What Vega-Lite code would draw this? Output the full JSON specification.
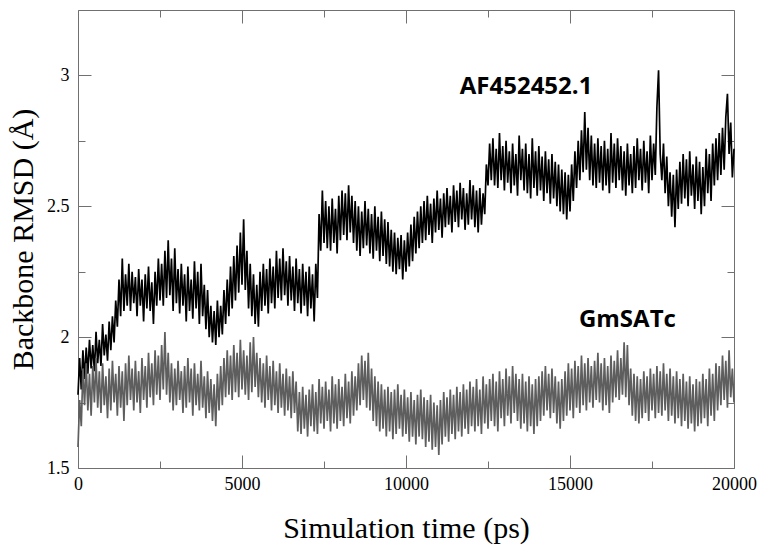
{
"$schema": "https://vega.github.io/schema/vega-lite/v6.json",
"autosize": "none",
"width": 656,
"height": 458,
"padding": {"left": 78, "top": 10, "right": 28, "bottom": 84},
"background": "white",
"view": {"stroke": "#707070", "strokeWidth": 1},
"config": {
  "axis": {"labelFont": "Liberation Serif", "labelFontSize": 18, "labelColor": "#000", "titleFont": "Liberation Serif", "titleFontSize": 30, "titleFontWeight": "normal", "titleColor": "#000", "tickColor": "#707070", "domain": false, "grid": false, "labelFlush": false, "labelOverlap": false}
},
"datasets": {
"rmsd": [
{"t":0,"a":1.78,"g":1.58},{"t":50,"a":1.92,"g":1.76},{"t":100,"a":1.80,"g":1.66},{"t":150,"a":1.95,"g":1.88},{"t":200,"a":1.84,"g":1.74},{"t":250,"a":1.96,"g":1.90},{"t":300,"a":1.86,"g":1.72},{"t":350,"a":1.99,"g":1.86},{"t":400,"a":1.88,"g":1.70},{"t":450,"a":1.97,"g":1.89},
{"t":500,"a":1.87,"g":1.75},{"t":550,"a":2.02,"g":1.92},{"t":600,"a":1.90,"g":1.73},{"t":650,"a":1.99,"g":1.87},{"t":700,"a":1.89,"g":1.71},{"t":750,"a":2.05,"g":1.90},{"t":800,"a":1.93,"g":1.74},{"t":850,"a":2.01,"g":1.85},{"t":900,"a":1.91,"g":1.69},{"t":950,"a":2.06,"g":1.88},
{"t":1000,"a":1.95,"g":1.72},{"t":1050,"a":2.08,"g":1.91},{"t":1100,"a":1.98,"g":1.75},{"t":1150,"a":2.14,"g":1.86},{"t":1200,"a":2.04,"g":1.70},{"t":1250,"a":2.22,"g":1.89},{"t":1300,"a":2.08,"g":1.73},{"t":1350,"a":2.30,"g":1.87},{"t":1400,"a":2.10,"g":1.68},{"t":1450,"a":2.24,"g":1.90},
{"t":1500,"a":2.12,"g":1.74},{"t":1550,"a":2.28,"g":1.93},{"t":1600,"a":2.10,"g":1.76},{"t":1650,"a":2.25,"g":1.88},{"t":1700,"a":2.13,"g":1.72},{"t":1750,"a":2.23,"g":1.91},{"t":1800,"a":2.08,"g":1.75},{"t":1850,"a":2.26,"g":1.87},{"t":1900,"a":2.12,"g":1.71},{"t":1950,"a":2.22,"g":1.92},
{"t":2000,"a":2.06,"g":1.76},{"t":2050,"a":2.24,"g":1.89},{"t":2100,"a":2.11,"g":1.73},{"t":2150,"a":2.27,"g":1.94},{"t":2200,"a":2.10,"g":1.77},{"t":2250,"a":2.21,"g":1.90},{"t":2300,"a":2.05,"g":1.74},{"t":2350,"a":2.25,"g":1.95},{"t":2400,"a":2.12,"g":1.78},{"t":2450,"a":2.30,"g":1.93},
{"t":2500,"a":2.14,"g":1.76},{"t":2550,"a":2.28,"g":1.97},{"t":2600,"a":2.12,"g":1.80},{"t":2650,"a":2.33,"g":2.02},{"t":2700,"a":2.15,"g":1.78},{"t":2750,"a":2.37,"g":1.94},{"t":2800,"a":2.16,"g":1.75},{"t":2850,"a":2.30,"g":1.90},{"t":2900,"a":2.10,"g":1.72},{"t":2950,"a":2.34,"g":1.88},
{"t":3000,"a":2.13,"g":1.74},{"t":3050,"a":2.26,"g":1.91},{"t":3100,"a":2.09,"g":1.76},{"t":3150,"a":2.28,"g":1.87},{"t":3200,"a":2.12,"g":1.71},{"t":3250,"a":2.24,"g":1.89},{"t":3300,"a":2.06,"g":1.73},{"t":3350,"a":2.27,"g":1.92},{"t":3400,"a":2.10,"g":1.75},{"t":3450,"a":2.22,"g":1.88},
{"t":3500,"a":2.07,"g":1.70},{"t":3550,"a":2.29,"g":1.90},{"t":3600,"a":2.11,"g":1.74},{"t":3650,"a":2.25,"g":1.86},{"t":3700,"a":2.05,"g":1.72},{"t":3750,"a":2.28,"g":1.91},{"t":3800,"a":2.08,"g":1.73},{"t":3850,"a":2.20,"g":1.85},{"t":3900,"a":2.03,"g":1.69},{"t":3950,"a":2.18,"g":1.87},
{"t":4000,"a":2.00,"g":1.71},{"t":4050,"a":2.12,"g":1.84},{"t":4100,"a":1.98,"g":1.68},{"t":4150,"a":2.10,"g":1.82},{"t":4200,"a":1.97,"g":1.66},{"t":4250,"a":2.14,"g":1.86},{"t":4300,"a":2.00,"g":1.72},{"t":4350,"a":2.12,"g":1.89},{"t":4400,"a":2.01,"g":1.74},{"t":4450,"a":2.18,"g":1.92},
{"t":4500,"a":2.05,"g":1.77},{"t":4550,"a":2.22,"g":1.95},{"t":4600,"a":2.08,"g":1.78},{"t":4650,"a":2.27,"g":1.93},{"t":4700,"a":2.11,"g":1.76},{"t":4750,"a":2.31,"g":1.97},{"t":4800,"a":2.14,"g":1.79},{"t":4850,"a":2.35,"g":1.94},{"t":4900,"a":2.17,"g":1.77},{"t":4950,"a":2.40,"g":1.99},
{"t":5000,"a":2.20,"g":1.80},{"t":5050,"a":2.45,"g":1.95},{"t":5100,"a":2.18,"g":1.78},{"t":5150,"a":2.33,"g":1.93},{"t":5200,"a":2.11,"g":1.76},{"t":5250,"a":2.28,"g":1.98},{"t":5300,"a":2.08,"g":1.79},{"t":5350,"a":2.24,"g":2.00},{"t":5400,"a":2.05,"g":1.81},{"t":5450,"a":2.20,"g":1.94},
{"t":5500,"a":2.04,"g":1.77},{"t":5550,"a":2.25,"g":1.92},{"t":5600,"a":2.10,"g":1.75},{"t":5650,"a":2.28,"g":1.90},{"t":5700,"a":2.12,"g":1.73},{"t":5750,"a":2.26,"g":1.93},{"t":5800,"a":2.09,"g":1.76},{"t":5850,"a":2.30,"g":1.89},{"t":5900,"a":2.13,"g":1.72},{"t":5950,"a":2.27,"g":1.91},
{"t":6000,"a":2.11,"g":1.74},{"t":6050,"a":2.33,"g":1.87},{"t":6100,"a":2.15,"g":1.71},{"t":6150,"a":2.30,"g":1.90},{"t":6200,"a":2.14,"g":1.73},{"t":6250,"a":2.34,"g":1.86},{"t":6300,"a":2.16,"g":1.70},{"t":6350,"a":2.29,"g":1.88},{"t":6400,"a":2.12,"g":1.72},{"t":6450,"a":2.31,"g":1.85},
{"t":6500,"a":2.14,"g":1.69},{"t":6550,"a":2.27,"g":1.87},{"t":6600,"a":2.10,"g":1.71},{"t":6650,"a":2.30,"g":1.83},{"t":6700,"a":2.13,"g":1.64},{"t":6750,"a":2.26,"g":1.79},{"t":6800,"a":2.09,"g":1.63},{"t":6850,"a":2.28,"g":1.81},{"t":6900,"a":2.12,"g":1.65},{"t":6950,"a":2.25,"g":1.78},
{"t":7000,"a":2.08,"g":1.62},{"t":7050,"a":2.27,"g":1.80},{"t":7100,"a":2.11,"g":1.66},{"t":7150,"a":2.24,"g":1.82},{"t":7200,"a":2.06,"g":1.64},{"t":7250,"a":2.28,"g":1.79},{"t":7300,"a":2.15,"g":1.63},{"t":7350,"a":2.47,"g":1.84},{"t":7400,"a":2.33,"g":1.67},{"t":7450,"a":2.56,"g":1.81},
{"t":7500,"a":2.36,"g":1.65},{"t":7550,"a":2.52,"g":1.83},{"t":7600,"a":2.34,"g":1.68},{"t":7650,"a":2.50,"g":1.80},{"t":7700,"a":2.33,"g":1.64},{"t":7750,"a":2.53,"g":1.85},{"t":7800,"a":2.36,"g":1.67},{"t":7850,"a":2.49,"g":1.82},{"t":7900,"a":2.32,"g":1.65},{"t":7950,"a":2.54,"g":1.84},
{"t":8000,"a":2.37,"g":1.68},{"t":8050,"a":2.56,"g":1.81},{"t":8100,"a":2.39,"g":1.66},{"t":8150,"a":2.55,"g":1.86},{"t":8200,"a":2.37,"g":1.69},{"t":8250,"a":2.58,"g":1.83},{"t":8300,"a":2.40,"g":1.67},{"t":8350,"a":2.54,"g":1.87},{"t":8400,"a":2.36,"g":1.70},{"t":8450,"a":2.52,"g":1.85},
{"t":8500,"a":2.33,"g":1.72},{"t":8550,"a":2.50,"g":1.90},{"t":8600,"a":2.31,"g":1.74},{"t":8650,"a":2.48,"g":1.93},{"t":8700,"a":2.34,"g":1.76},{"t":8750,"a":2.52,"g":1.91},{"t":8800,"a":2.35,"g":1.73},{"t":8850,"a":2.49,"g":1.94},{"t":8900,"a":2.32,"g":1.72},{"t":8950,"a":2.47,"g":1.88},
{"t":9000,"a":2.30,"g":1.68},{"t":9050,"a":2.50,"g":1.85},{"t":9100,"a":2.33,"g":1.66},{"t":9150,"a":2.46,"g":1.83},{"t":9200,"a":2.29,"g":1.64},{"t":9250,"a":2.48,"g":1.82},{"t":9300,"a":2.31,"g":1.65},{"t":9350,"a":2.45,"g":1.80},{"t":9400,"a":2.28,"g":1.62},{"t":9450,"a":2.44,"g":1.81},
{"t":9500,"a":2.27,"g":1.64},{"t":9550,"a":2.41,"g":1.79},{"t":9600,"a":2.25,"g":1.61},{"t":9650,"a":2.40,"g":1.80},{"t":9700,"a":2.24,"g":1.63},{"t":9750,"a":2.38,"g":1.82},{"t":9800,"a":2.26,"g":1.65},{"t":9850,"a":2.39,"g":1.78},{"t":9900,"a":2.22,"g":1.62},{"t":9950,"a":2.37,"g":1.80},
{"t":10000,"a":2.25,"g":1.63},{"t":10050,"a":2.40,"g":1.77},{"t":10100,"a":2.27,"g":1.60},{"t":10150,"a":2.43,"g":1.79},{"t":10200,"a":2.29,"g":1.62},{"t":10250,"a":2.46,"g":1.76},{"t":10300,"a":2.32,"g":1.59},{"t":10350,"a":2.48,"g":1.78},{"t":10400,"a":2.34,"g":1.62},{"t":10450,"a":2.50,"g":1.80},
{"t":10500,"a":2.36,"g":1.61},{"t":10550,"a":2.52,"g":1.77},{"t":10600,"a":2.37,"g":1.58},{"t":10650,"a":2.54,"g":1.76},{"t":10700,"a":2.39,"g":1.60},{"t":10750,"a":2.51,"g":1.78},{"t":10800,"a":2.36,"g":1.57},{"t":10850,"a":2.53,"g":1.75},{"t":10900,"a":2.40,"g":1.58},{"t":10950,"a":2.56,"g":1.74},
{"t":11000,"a":2.41,"g":1.55},{"t":11050,"a":2.53,"g":1.76},{"t":11100,"a":2.38,"g":1.59},{"t":11150,"a":2.55,"g":1.79},{"t":11200,"a":2.42,"g":1.62},{"t":11250,"a":2.57,"g":1.77},{"t":11300,"a":2.43,"g":1.60},{"t":11350,"a":2.54,"g":1.80},{"t":11400,"a":2.40,"g":1.63},{"t":11450,"a":2.58,"g":1.78},
{"t":11500,"a":2.44,"g":1.61},{"t":11550,"a":2.56,"g":1.81},{"t":11600,"a":2.42,"g":1.64},{"t":11650,"a":2.59,"g":1.79},{"t":11700,"a":2.45,"g":1.62},{"t":11750,"a":2.57,"g":1.82},{"t":11800,"a":2.41,"g":1.65},{"t":11850,"a":2.55,"g":1.80},{"t":11900,"a":2.43,"g":1.63},{"t":11950,"a":2.60,"g":1.83},
{"t":12000,"a":2.45,"g":1.66},{"t":12050,"a":2.58,"g":1.81},{"t":12100,"a":2.42,"g":1.64},{"t":12150,"a":2.56,"g":1.84},{"t":12200,"a":2.40,"g":1.66},{"t":12250,"a":2.57,"g":1.80},{"t":12300,"a":2.43,"g":1.63},{"t":12350,"a":2.55,"g":1.85},{"t":12400,"a":2.47,"g":1.67},{"t":12450,"a":2.66,"g":1.82},
{"t":12500,"a":2.58,"g":1.65},{"t":12550,"a":2.74,"g":1.84},{"t":12600,"a":2.60,"g":1.68},{"t":12650,"a":2.76,"g":1.86},{"t":12700,"a":2.58,"g":1.66},{"t":12750,"a":2.72,"g":1.83},{"t":12800,"a":2.57,"g":1.64},{"t":12850,"a":2.78,"g":1.87},{"t":12900,"a":2.60,"g":1.69},{"t":12950,"a":2.73,"g":1.84},
{"t":13000,"a":2.56,"g":1.66},{"t":13050,"a":2.75,"g":1.88},{"t":13100,"a":2.59,"g":1.70},{"t":13150,"a":2.71,"g":1.85},{"t":13200,"a":2.55,"g":1.67},{"t":13250,"a":2.74,"g":1.89},{"t":13300,"a":2.58,"g":1.71},{"t":13350,"a":2.70,"g":1.86},{"t":13400,"a":2.54,"g":1.68},{"t":13450,"a":2.77,"g":1.84},
{"t":13500,"a":2.60,"g":1.65},{"t":13550,"a":2.72,"g":1.86},{"t":13600,"a":2.56,"g":1.67},{"t":13650,"a":2.74,"g":1.83},{"t":13700,"a":2.55,"g":1.64},{"t":13750,"a":2.70,"g":1.85},{"t":13800,"a":2.53,"g":1.66},{"t":13850,"a":2.76,"g":1.82},{"t":13900,"a":2.57,"g":1.63},{"t":13950,"a":2.71,"g":1.84},
{"t":14000,"a":2.54,"g":1.66},{"t":14050,"a":2.73,"g":1.85},{"t":14100,"a":2.56,"g":1.68},{"t":14150,"a":2.69,"g":1.87},{"t":14200,"a":2.52,"g":1.70},{"t":14250,"a":2.71,"g":1.89},{"t":14300,"a":2.55,"g":1.72},{"t":14350,"a":2.68,"g":1.86},{"t":14400,"a":2.51,"g":1.69},{"t":14450,"a":2.70,"g":1.88},
{"t":14500,"a":2.53,"g":1.71},{"t":14550,"a":2.67,"g":1.85},{"t":14600,"a":2.50,"g":1.67},{"t":14650,"a":2.66,"g":1.83},{"t":14700,"a":2.48,"g":1.65},{"t":14750,"a":2.64,"g":1.84},{"t":14800,"a":2.47,"g":1.68},{"t":14850,"a":2.63,"g":1.87},{"t":14900,"a":2.45,"g":1.70},{"t":14950,"a":2.62,"g":1.90},
{"t":15000,"a":2.48,"g":1.72},{"t":15050,"a":2.66,"g":1.88},{"t":15100,"a":2.52,"g":1.69},{"t":15150,"a":2.71,"g":1.91},{"t":15200,"a":2.57,"g":1.73},{"t":15250,"a":2.75,"g":1.89},{"t":15300,"a":2.60,"g":1.71},{"t":15350,"a":2.79,"g":1.93},{"t":15400,"a":2.63,"g":1.74},{"t":15450,"a":2.86,"g":1.90},
{"t":15500,"a":2.64,"g":1.72},{"t":15550,"a":2.80,"g":1.92},{"t":15600,"a":2.60,"g":1.75},{"t":15650,"a":2.77,"g":1.89},{"t":15700,"a":2.58,"g":1.73},{"t":15750,"a":2.74,"g":1.91},{"t":15800,"a":2.57,"g":1.76},{"t":15850,"a":2.76,"g":1.94},{"t":15900,"a":2.59,"g":1.75},{"t":15950,"a":2.73,"g":1.90},
{"t":16000,"a":2.56,"g":1.72},{"t":16050,"a":2.75,"g":1.92},{"t":16100,"a":2.58,"g":1.74},{"t":16150,"a":2.72,"g":1.89},{"t":16200,"a":2.55,"g":1.71},{"t":16250,"a":2.78,"g":1.93},{"t":16300,"a":2.59,"g":1.75},{"t":16350,"a":2.74,"g":1.91},{"t":16400,"a":2.57,"g":1.77},{"t":16450,"a":2.76,"g":1.95},
{"t":16500,"a":2.60,"g":1.76},{"t":16550,"a":2.73,"g":1.92},{"t":16600,"a":2.56,"g":1.78},{"t":16650,"a":2.71,"g":1.98},{"t":16700,"a":2.54,"g":1.77},{"t":16750,"a":2.74,"g":1.97},{"t":16800,"a":2.58,"g":1.74},{"t":16850,"a":2.70,"g":1.88},{"t":16900,"a":2.55,"g":1.70},{"t":16950,"a":2.73,"g":1.86},
{"t":17000,"a":2.57,"g":1.68},{"t":17050,"a":2.76,"g":1.85},{"t":17100,"a":2.60,"g":1.67},{"t":17150,"a":2.72,"g":1.84},{"t":17200,"a":2.56,"g":1.69},{"t":17250,"a":2.75,"g":1.87},{"t":17300,"a":2.59,"g":1.71},{"t":17350,"a":2.71,"g":1.85},{"t":17400,"a":2.55,"g":1.68},{"t":17450,"a":2.77,"g":1.88},
{"t":17500,"a":2.60,"g":1.72},{"t":17550,"a":2.74,"g":1.86},{"t":17600,"a":2.62,"g":1.69},{"t":17650,"a":2.88,"g":1.89},{"t":17700,"a":3.02,"g":1.71},{"t":17750,"a":2.70,"g":1.87},{"t":17800,"a":2.60,"g":1.70},{"t":17850,"a":2.74,"g":1.90},{"t":17900,"a":2.55,"g":1.72},{"t":17950,"a":2.69,"g":1.86},
{"t":18000,"a":2.50,"g":1.68},{"t":18050,"a":2.63,"g":1.88},{"t":18100,"a":2.46,"g":1.70},{"t":18150,"a":2.62,"g":1.85},{"t":18200,"a":2.42,"g":1.67},{"t":18250,"a":2.64,"g":1.87},{"t":18300,"a":2.49,"g":1.69},{"t":18350,"a":2.67,"g":1.84},{"t":18400,"a":2.51,"g":1.66},{"t":18450,"a":2.70,"g":1.86},
{"t":18500,"a":2.53,"g":1.68},{"t":18550,"a":2.68,"g":1.83},{"t":18600,"a":2.50,"g":1.65},{"t":18650,"a":2.71,"g":1.85},{"t":18700,"a":2.54,"g":1.67},{"t":18750,"a":2.66,"g":1.82},{"t":18800,"a":2.49,"g":1.64},{"t":18850,"a":2.69,"g":1.84},{"t":18900,"a":2.52,"g":1.66},{"t":18950,"a":2.67,"g":1.83},
{"t":19000,"a":2.47,"g":1.67},{"t":19050,"a":2.65,"g":1.86},{"t":19100,"a":2.50,"g":1.69},{"t":19150,"a":2.72,"g":1.84},{"t":19200,"a":2.55,"g":1.66},{"t":19250,"a":2.70,"g":1.88},{"t":19300,"a":2.52,"g":1.70},{"t":19350,"a":2.74,"g":1.86},{"t":19400,"a":2.58,"g":1.68},{"t":19450,"a":2.76,"g":1.90},
{"t":19500,"a":2.60,"g":1.72},{"t":19550,"a":2.78,"g":1.89},{"t":19600,"a":2.62,"g":1.74},{"t":19650,"a":2.80,"g":1.93},{"t":19700,"a":2.64,"g":1.76},{"t":19750,"a":2.84,"g":1.91},{"t":19800,"a":2.93,"g":1.73},{"t":19850,"a":2.70,"g":1.95},{"t":19900,"a":2.82,"g":1.77},{"t":19950,"a":2.61,"g":1.88},
{"t":20000,"a":2.72,"g":1.75}
],
"labels1": [{"t":13660,"v":2.955,"label":"AF452452.1"}],
"labels2": [{"t":16750,"v":2.065,"label":"GmSATc"}]
},
"resolve": {"axis": {"x": "independent", "y": "independent"}},
"layer": [
{
 "data": {"name": "rmsd"},
 "mark": {"type": "line", "color": "#000000", "strokeWidth": 1.7, "interpolate": "linear"},
 "encoding": {
  "x": {"field": "t", "type": "quantitative", "scale": {"domain": [0, 20000], "nice": false, "zero": false},
        "axis": {"orient": "bottom", "values": [0, 5000, 10000, 15000, 20000], "tickSize": -13, "labelPadding": 20, "labelFont": "Liberation Serif", "labelFontSize": 18, "title": "Simulation time (ps)", "titleFont": "Liberation Serif", "titlePadding": 20, "format": "d"}},
  "y": {"field": "a", "type": "quantitative", "scale": {"domain": [1.5, 3.25], "nice": false, "zero": false},
        "axis": {"orient": "left", "values": [1.5, 2, 2.5, 3], "tickSize": -13, "labelPadding": 22, "labelFont": "Liberation Serif", "labelFontSize": 18, "format": "~g", "title": "Backbone RMSD (Å)", "titleFont": "Liberation Serif", "titlePadding": 8}}
 }
},
{
 "data": {"name": "rmsd"},
 "mark": {"type": "line", "color": "#5e5e5e", "strokeWidth": 1.7, "interpolate": "linear"},
 "encoding": {
  "x": {"field": "t", "type": "quantitative", "scale": {"domain": [0, 20000], "nice": false, "zero": false},
        "axis": {"orient": "bottom", "values": [2500, 7500, 12500, 17500], "tickSize": -7, "labels": false, "title": null}},
  "y": {"field": "g", "type": "quantitative", "scale": {"domain": [1.5, 3.25], "nice": false, "zero": false},
        "axis": {"orient": "left", "values": [1.75, 2.25, 2.75], "tickSize": -7, "labels": false, "title": null}}
 }
},
{
 "data": {"name": "labels1"},
 "mark": {"type": "text", "font": "Open Sans", "fontWeight": "bold", "fontSize": 24, "color": "#000", "align": "center", "baseline": "middle"},
 "encoding": {
  "x": {"field": "t", "type": "quantitative", "scale": {"domain": [0, 20000], "nice": false, "zero": false},
        "axis": {"orient": "top", "values": [0, 5000, 10000, 15000, 20000], "tickSize": -13, "labels": false, "title": null}},
  "y": {"field": "v", "type": "quantitative", "scale": {"domain": [1.5, 3.25], "nice": false, "zero": false},
        "axis": {"orient": "right", "values": [1.5, 2, 2.5, 3], "tickSize": -13, "labels": false, "title": null}},
  "text": {"field": "label", "type": "nominal"}
 }
},
{
 "data": {"name": "labels2"},
 "mark": {"type": "text", "font": "Open Sans", "fontWeight": "bold", "fontSize": 24, "color": "#000", "align": "center", "baseline": "middle"},
 "encoding": {
  "x": {"field": "t", "type": "quantitative", "scale": {"domain": [0, 20000], "nice": false, "zero": false},
        "axis": {"orient": "top", "values": [2500, 7500, 12500, 17500], "tickSize": -7, "labels": false, "title": null}},
  "y": {"field": "v", "type": "quantitative", "scale": {"domain": [1.5, 3.25], "nice": false, "zero": false},
        "axis": {"orient": "right", "values": [1.75, 2.25, 2.75], "tickSize": -7, "labels": false, "title": null}},
  "text": {"field": "label", "type": "nominal"}
 }
}
]
}
